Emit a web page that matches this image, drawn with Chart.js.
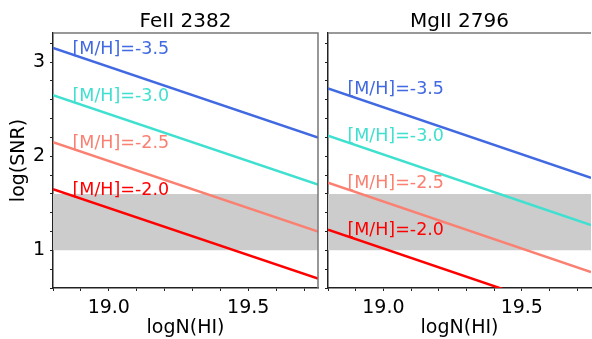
<!DOCTYPE html>
<html>
<head>
<meta charset="utf-8">
<script src="https://cdn.jsdelivr.net/npm/chart.js@4.4.0/dist/chart.umd.min.js"></script>
<style>
body { margin: 0; background: #fff; }
#wrap { position: relative; width: 592px; height: 339px; overflow: hidden; }
canvas { position: absolute; top: 0; }
#feChart { left: 0; }
#mgChart { left: 322px; }
</style>
</head>
<body>
<div id="wrap">
    <canvas id="feChart" width="322" height="339"></canvas>
    <canvas id="mgChart" width="270" height="339"></canvas>
</div>
<script>
// values: log(SNR) at the two ends of logN(HI)
const metallicityLabels = ['[M/H]=-3.5', '[M/H]=-3.0', '[M/H]=-2.5', '[M/H]=-2.0'];
const logNHI = [18.8, 19.75];
const feiiSNR = [[3.15, 2.20], [2.65, 1.70], [2.15, 1.20], [1.65, 0.70]];
const mgiiSNR = [[2.72, 1.77], [2.22, 1.27], [1.72, 0.77], [1.22, 0.27]];
const snrBand = [1.0, 1.6];
const labelLogN = 18.87;

const xTicks = [18.8, 18.9, 19.0, 19.1, 19.2, 19.3, 19.4, 19.5, 19.6, 19.7];
const xTickLabels = [19.0, 19.5];
const yTicks = [0.6, 0.8, 1.0, 1.2, 1.4, 1.6, 1.8, 2.0, 2.2, 2.4, 2.6, 2.8, 3.0, 3.2];
const yTickLabels = [1, 2, 3];

const lineColors = ['royalblue', 'turquoise', 'salmon', 'red'];
const FONT = 'DejaVu Sans';
const FS = 19;        // ticks and axis labels
const FS_TITLE = 20;
const FS_NOTE = 17.5;

function isLabelled(value, list) {
    return list.some(v => Math.abs(v - value) < 1e-6);
}

// [M/H] labels sitting on each line near the left edge
const lineLabels = {
    id: 'lineLabels',
    afterDatasetsDraw(chart) {
        const {ctx, scales: {x, y}} = chart;
        ctx.save();
        ctx.font = FS_NOTE + 'px "' + FONT + '"';
        ctx.textAlign = 'left';
        ctx.textBaseline = 'alphabetic';
        chart.data.datasets.forEach(ds => {
            if (!ds.tag) return;
            const p0 = ds.data[0], p1 = ds.data[1];
            const v = p0.y + (p1.y - p0.y) * (labelLogN - p0.x) / (p1.x - p0.x);
            ctx.fillStyle = ds.borderColor;
            ctx.fillText(ds.tag, x.getPixelForValue(labelLogN), y.getPixelForValue(v) - 1);
        });
        ctx.restore();
    }
};

// top / right spines
const frame = {
    id: 'frame',
    afterDraw(chart, args, opts) {
        const {ctx, chartArea: a} = chart;
        ctx.save();
        ctx.strokeStyle = '#777';
        ctx.lineWidth = 1.5;
        ctx.beginPath();
        ctx.moveTo(a.left, a.top);
        ctx.lineTo(a.right, a.top);
        if (opts.right) ctx.lineTo(a.right, a.bottom);
        ctx.stroke();
        ctx.restore();
    }
};

function makeChart(id, title, snr, isLeft) {
    const datasets = [
        {
            data: logNHI.map(x => ({x: x, y: snrBand[1]})),
            borderWidth: 0, pointRadius: 0, fill: false, order: 10
        },
        {
            data: logNHI.map(x => ({x: x, y: snrBand[0]})),
            borderWidth: 0, pointRadius: 0, fill: '-1', backgroundColor: '#cccccc', order: 10
        }
    ];
    snr.forEach((vals, i) => {
        datasets.push({
            tag: metallicityLabels[i],
            data: logNHI.map((x, j) => ({x: x, y: vals[j]})),
            borderColor: lineColors[i],
            borderWidth: 2.5,
            pointRadius: 0,
            fill: false,
            order: 1
        });
    });

    return new Chart(document.getElementById(id), {
        type: 'line',
        data: {datasets: datasets},
        options: {
            responsive: false,
            animation: false,
            layout: {padding: {left: 0, right: isLeft ? 4 : 1, top: 0, bottom: 0}},
            plugins: {
                legend: {display: false},
                tooltip: {enabled: false},
                title: {
                    display: true,
                    fullSize: false,
                    text: title,
                    color: '#000',
                    font: {family: FONT, size: FS_TITLE, weight: 'normal', lineHeight: 1},
                    padding: {top: 11.5, bottom: 1.5}
                },
                frame: {right: isLeft}
            },
            scales: {
                x: {
                    type: 'linear',
                    min: 18.8,
                    max: 19.75,
                    afterBuildTicks: s => { s.ticks = xTicks.map(v => ({value: v})); },
                    afterFit: s => { s.height = 51; },
                    grid: {drawOnChartArea: false, drawTicks: true, tickLength: 3, tickColor: '#222'},
                    border: {display: true, color: '#222', width: 1.5},
                    ticks: {
                        color: '#000',
                        font: {family: FONT, size: FS},
                        padding: 6,
                        maxRotation: 0,
                        autoSkip: false,
                        callback: v => isLabelled(v, xTickLabels) ? v.toFixed(1) : ''
                    },
                    title: {
                        display: true,
                        text: 'logN(HI)',
                        color: '#000',
                        font: {family: FONT, size: FS},
                        padding: {top: 0, bottom: 0}
                    }
                },
                y: {
                    type: 'linear',
                    min: 0.6,
                    max: 3.31,
                    afterBuildTicks: s => { s.ticks = yTicks.map(v => ({value: v})); },
                    afterFit: s => { s.width = isLeft ? 53 : 6; },
                    grid: {drawOnChartArea: false, drawTicks: true, tickLength: 3, tickColor: '#222'},
                    border: {display: true, color: '#222', width: 1.5},
                    ticks: {
                        color: '#000',
                        font: {family: FONT, size: FS},
                        padding: 5,
                        autoSkip: false,
                        callback: v => (isLeft && isLabelled(v, yTickLabels)) ? String(Math.round(v)) : ''
                    },
                    title: {
                        display: isLeft,
                        text: 'log(SNR)',
                        color: '#000',
                        font: {family: FONT, size: FS},
                        padding: {top: 7.5, bottom: 0}
                    }
                }
            }
        },
        plugins: [lineLabels, frame]
    });
}

makeChart('feChart', 'FeII 2382', feiiSNR, true);
makeChart('mgChart', 'MgII 2796', mgiiSNR, false);
</script>
</body>
</html>
